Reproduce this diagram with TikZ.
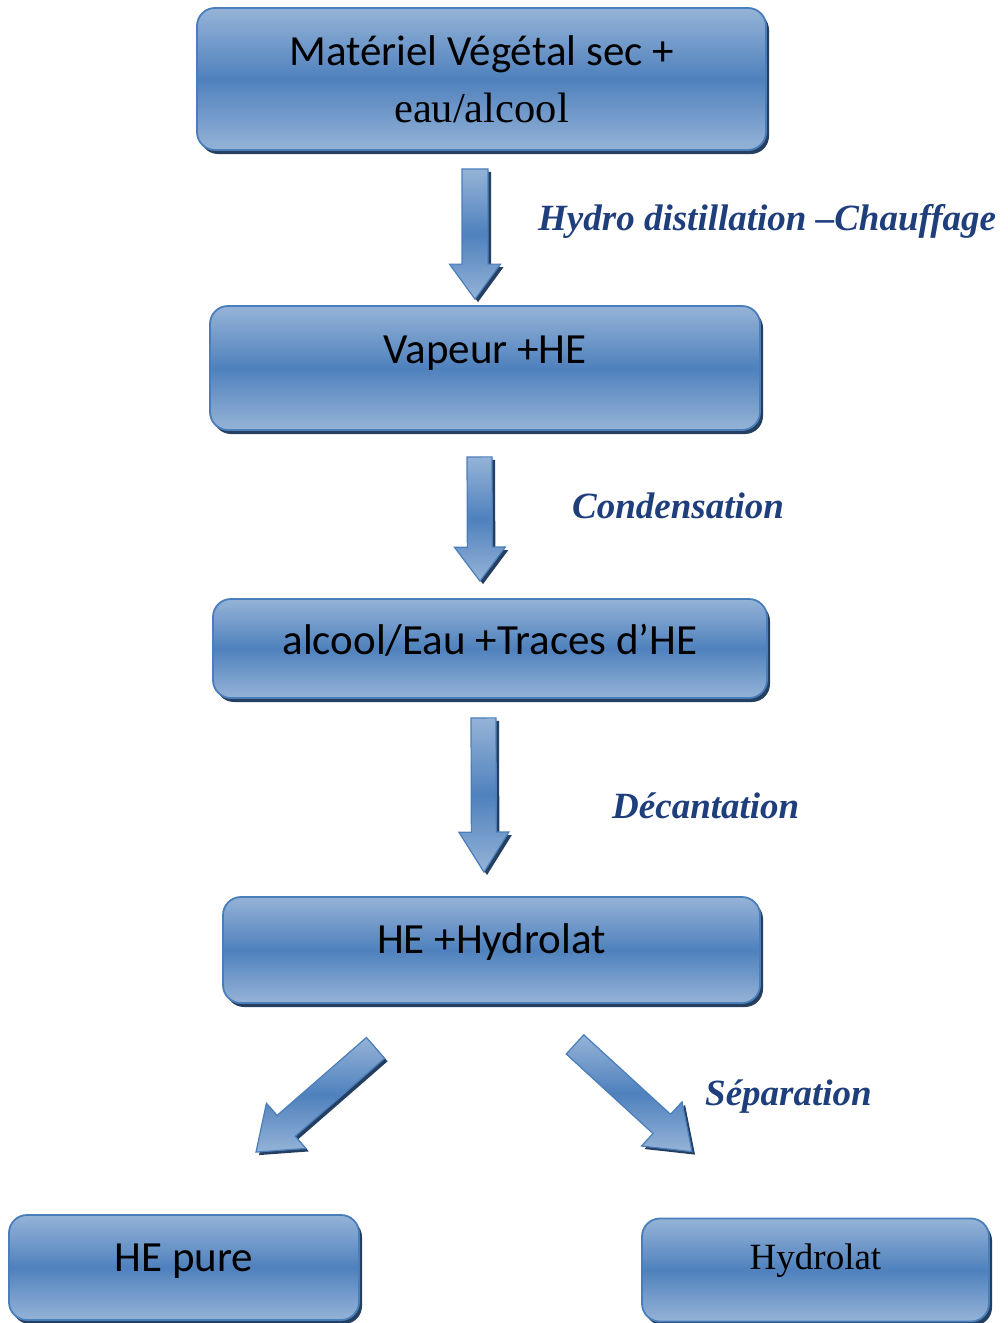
\documentclass[tikz,border=0pt]{standalone}
\usepackage{fontspec}
\setmainfont{Carlito}
\newfontfamily\timesfont{Liberation Serif}
\usetikzlibrary{calc, shadows}
\definecolor{boxLight}{HTML}{95B3D7}
\definecolor{boxMid}{HTML}{4F81BD}
\definecolor{boxEdge}{HTML}{4A7EBB}
\definecolor{boxShadow}{HTML}{243F60}
\definecolor{stepText}{HTML}{1F3E7C}

\tikzset{
  stage/.style={rounded corners=18pt, draw=boxEdge, line width=1.8pt,
    top color=boxLight, bottom color=boxLight, middle color=boxMid,
    drop shadow={shadow xshift=3pt, shadow yshift=-4pt, fill=boxShadow, opacity=1},
    font=\fontsize{43}{56}\selectfont, text=black, align=center, inner sep=0pt},
  steplabel/.style={font=\timesfont\bfseries\itshape\fontsize{37}{44}\selectfont,
    text=stepText, anchor=west, inner sep=0pt},
  arrowbody/.style={top color=boxLight, bottom color=boxLight, middle color=boxMid,
    draw=boxEdge, line width=1.2pt, line join=miter},
}
% text baseline moved by #1 from the box centre
\newcommand\lift[2]{\raisebox{#1}[0pt][0pt]{#2}}
% block arrow: start, tip, half shaft, half head, head length
\newcommand\blockarrow[5]{%
  \coordinate (hb) at ($(#2)!#5!(#1)$);
  \fill[boxShadow, transform canvas={xshift=3pt, yshift=-3pt}]
    ($(#1)!#3!90:(#2)$) -- ($(hb)!#3!90:(#2)$) -- ($(hb)!#4!90:(#2)$) -- (#2)
    -- ($(hb)!#4!-90:(#2)$) -- ($(hb)!#3!-90:(#2)$) -- ($(#1)!#3!-90:(#2)$) -- cycle;
  \shade[arrowbody]
    ($(#1)!#3!90:(#2)$) -- ($(hb)!#3!90:(#2)$) -- ($(hb)!#4!90:(#2)$) -- (#2)
    -- ($(hb)!#4!-90:(#2)$) -- ($(hb)!#3!-90:(#2)$) -- ($(#1)!#3!-90:(#2)$) -- cycle;
}

\begin{document}
\begin{tikzpicture}[x=1pt, y=-1pt]
  \useasboundingbox (0,0) rectangle (1007,1323);

  % stages
  \node[stage, minimum width=569pt, minimum height=142pt] (b1) at (481.5,79)
    {Matériel Végétal sec +\\[1pt]{\timesfont\fontsize{42.5}{50}\selectfont eau/alcool}};
  \node[stage, minimum width=550pt, minimum height=124pt] (b2) at (485,368)
    {\lift{4.5pt}{Vapeur +HE}};
  \node[stage, minimum width=554pt, minimum height=99pt] (b3) at (490,648.5)
    {\lift{-6pt}{alcool/Eau +Traces d’HE}};
  \node[stage, minimum width=537pt, minimum height=106pt] (b4) at (491.5,950)
    {\lift{-3.5pt}{HE +Hydrolat}};
  \node[stage, minimum width=350pt, minimum height=105pt] (b5) at (184,1267.5)
    {\lift{-4pt}{HE pure}};
  \node[stage, minimum width=347pt, minimum height=103pt] (b6) at (815.5,1270)
    {\lift{1pt}{\timesfont\fontsize{37}{44}\selectfont Hydrolat}};

  % arrow ends
  \coordinate (a1s) at ($(b1.south)+(-6.5,18)$);
  \coordinate (a1e) at ($(b2.north)+(-10,-6)$);
  \coordinate (a2s) at ($(b2.south)+(-5.5,26)$);
  \coordinate (a2e) at ($(b3.north)+(-10,-17)$);
  \coordinate (a3s) at ($(b3.south)+(-6.5,19)$);
  \coordinate (a3e) at ($(b4.north)+(-7.5,-24)$);
  \coordinate (a4s) at ($(b4.south)+(-116,44)$);
  \coordinate (a4e) at ($(b5.north)+(72,-62)$);
  \coordinate (a5s) at ($(b4.south)+(83.5,40.5)$);
  \coordinate (a5e) at ($(b6.north)+(-123.5,-66)$);

  \blockarrow{a1s}{a1e}{13pt}{25.5pt}{35pt}
  \blockarrow{a2s}{a2e}{12.5pt}{25.5pt}{34pt}
  \blockarrow{a3s}{a3e}{12.5pt}{25pt}{40pt}
  \blockarrow{a4s}{a4e}{13.8pt}{30pt}{40pt}
  \blockarrow{a5s}{a5e}{13pt}{30pt}{41pt}

  % step labels
  \node[steplabel] (l1) at (538,221) {Hydro distillation –Chauffage};
  \node[steplabel] (l2) at (572,506) {Condensation};
  \node[steplabel] (l3) at (612,806) {Décantation};
  \node[steplabel] (l4) at (705,1097) {Séparation};
\end{tikzpicture}
\end{document}
